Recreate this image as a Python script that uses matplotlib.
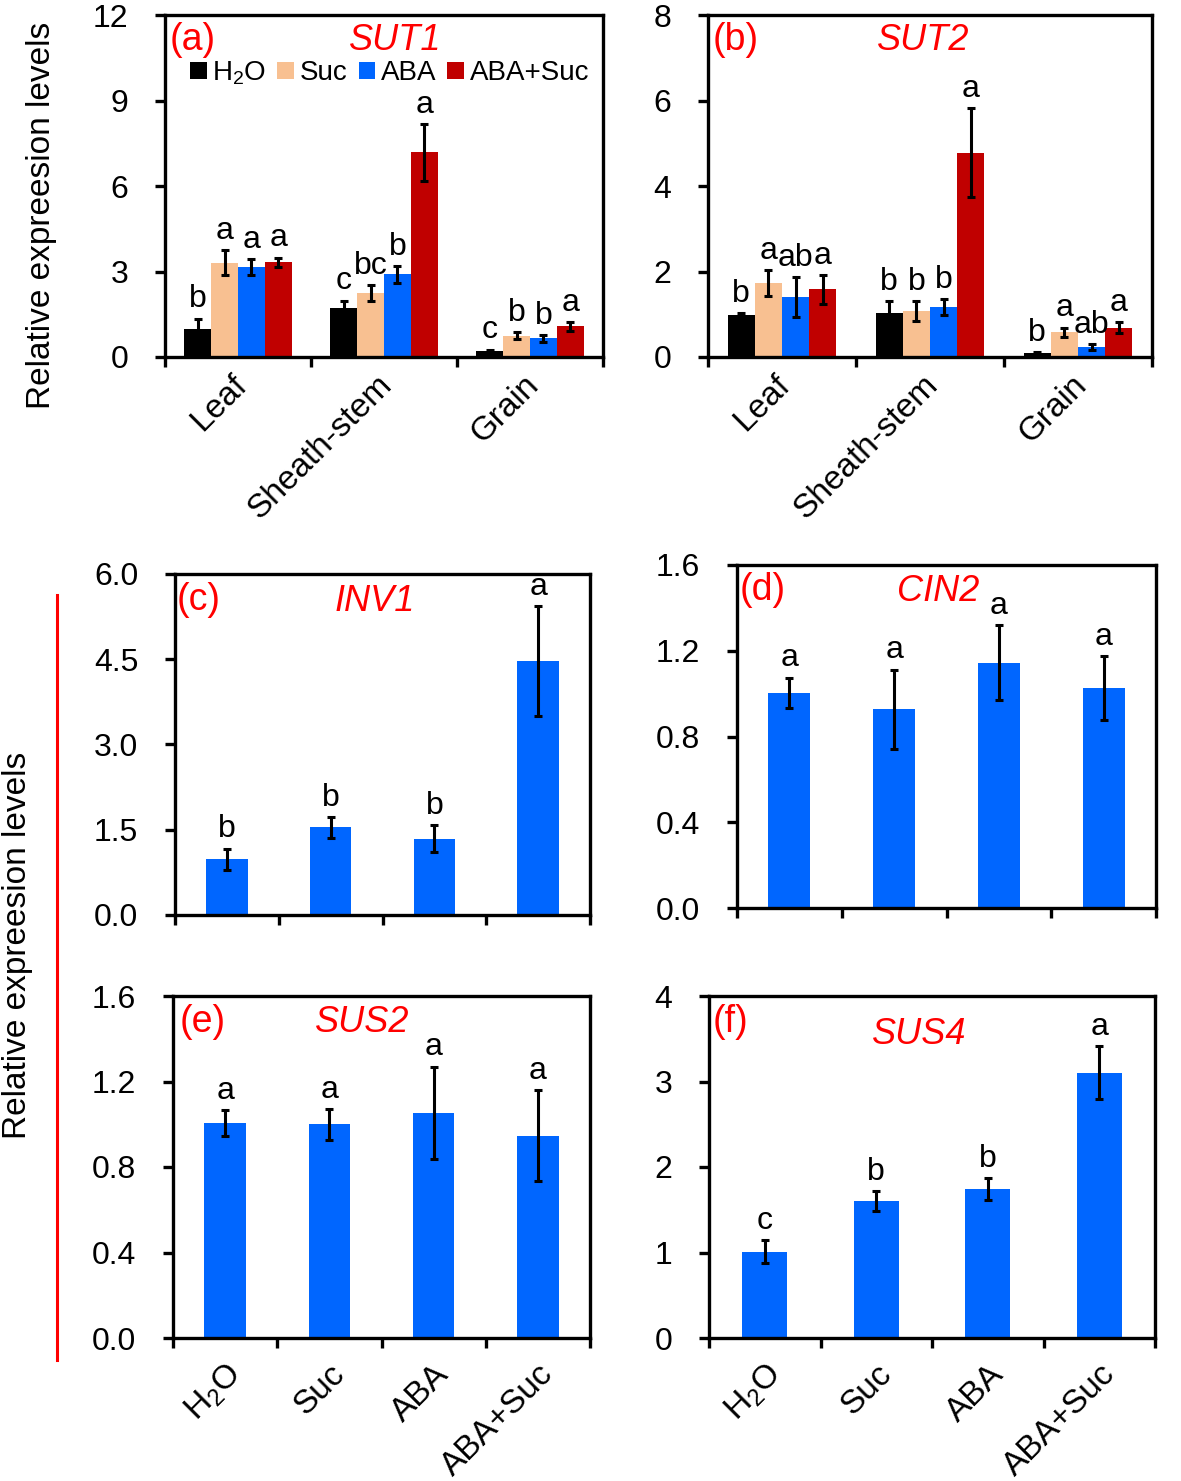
import matplotlib
matplotlib.use("Agg")
import matplotlib.pyplot as plt
from matplotlib.patches import Patch
import numpy as np

plt.rcParams['font.family'] = ['Liberation Sans', 'DejaVu Sans']
plt.rcParams['mathtext.fontset'] = 'custom'
plt.rcParams['mathtext.rm'] = 'Liberation Sans'
plt.rcParams['mathtext.it'] = 'Liberation Sans:italic'

# ---------------- data ----------------
treatments = ["H$_2$O", "Suc", "ABA", "ABA+Suc"]
tissues = ["Leaf", "Sheath-stem", "Grain"]
colors = ["#000000", "#F8C091", "#0066FF", "#C00000"]

# Panel (a) SUT1: rows = tissues, cols = treatments
sut1_mean = [[0.98, 3.31, 3.16, 3.33],
             [1.73, 2.24, 2.90, 7.18],
             [0.21, 0.75, 0.65, 1.08]]
sut1_err = [[0.37, 0.44, 0.27, 0.16],
            [0.25, 0.27, 0.30, 1.00],
            [0.05, 0.13, 0.13, 0.16]]
sut1_let = [["b", "a", "a", "a"],
            ["c", "bc", "b", "a"],
            ["c", "b", "b", "a"]]

# Panel (b) SUT2
sut2_mean = [[0.99, 1.73, 1.40, 1.58],
             [1.04, 1.07, 1.17, 4.78],
             [0.09, 0.58, 0.24, 0.68]]
sut2_err = [[0.03, 0.31, 0.47, 0.33],
            [0.26, 0.23, 0.19, 1.04],
            [0.03, 0.11, 0.07, 0.13]]
sut2_let = [["b", "a", "ab", "a"],
            ["b", "b", "b", "a"],
            ["b", "a", "ab", "a"]]

# Panels (c)-(f): single series over treatments
inv1_mean = [0.98, 1.54, 1.34, 4.47]
inv1_err = [0.19, 0.18, 0.24, 0.96]
inv1_let = ["b", "b", "b", "a"]

cin2_mean = [1.003, 0.927, 1.145, 1.027]
cin2_err = [0.072, 0.185, 0.175, 0.150]
cin2_let = ["a", "a", "a", "a"]

sus2_mean = [1.004, 1.000, 1.053, 0.947]
sus2_err = [0.061, 0.073, 0.217, 0.211]
sus2_let = ["a", "a", "a", "a"]

sus4_mean = [1.01, 1.60, 1.745, 3.10]
sus4_err = [0.135, 0.12, 0.13, 0.31]
sus4_let = ["c", "b", "b", "a"]

W, H = 1181, 1481
fig = plt.figure(figsize=(W / 100, H / 100), dpi=100)

def add_ax(l, r, t, b):
    return fig.add_axes([l / W, 1 - b / H, (r - l) / W, (b - t) / H])

FS = 23
LW = 2.4
RED = "#FF0000"

def style(ax, ymax, yticks, yfmt, nx):
    ax.set_xlim(0, nx)
    ax.set_ylim(0, ymax)
    ax.set_yticks(yticks)
    ax.set_yticklabels([yfmt.format(v) for v in yticks], fontsize=FS)
    ax.set_xticks(np.arange(nx + 1))
    ax.set_xticklabels([])
    for s in ax.spines.values():
        s.set_linewidth(LW)
    ax.tick_params(axis='both', direction='out', length=7.5, width=LW)
    ax.tick_params(axis='y', pad=19)

def grouped(ax, means, errs, lets, ymax):
    n = len(treatments)
    bw = 0.184
    for g in range(len(tissues)):
        for k in range(n):
            x = g + 0.5 + (k - (n - 1) / 2) * bw
            m = means[g][k]; e = errs[g][k]
            ax.bar(x, m, width=bw, color=colors[k], edgecolor='none', zorder=2)
            ax.errorbar(x, m, yerr=e, fmt='none', ecolor='black', elinewidth=2.2,
                        capsize=3.2, capthick=2.2, zorder=3)
            ax.text(x, m + e + ymax * 0.012, lets[g][k], ha='center', va='bottom',
                    fontsize=FS)

def single(ax, means, errs, lets, ymax):
    for k in range(len(means)):
        x = k + 0.5
        ax.bar(x, means[k], width=0.40, color="#0066FF", edgecolor='none', zorder=2)
        ax.errorbar(x, means[k], yerr=errs[k], fmt='none', ecolor='black',
                    elinewidth=2.2, capsize=3.2, capthick=2.2, zorder=3)
        ax.text(x, means[k] + errs[k] + ymax * 0.012, lets[k], ha='center',
                va='bottom', fontsize=FS)

def xlabels(ax, labels, dx, dy):
    for i, lab in enumerate(labels):
        ax.text(i + 0.5 + dx, dy, lab, transform=ax.get_xaxis_transform(),
                rotation=45, ha='right', va='top', rotation_mode='anchor',
                fontsize=FS + 1)

def fig_text(x, y, s, **kw):
    fig.text(x / W, 1 - y / H, s, **kw)

# (a)
axa = add_ax(165, 603, 15, 357)
style(axa, 12, [0, 3, 6, 9, 12], "{:g}", 3)
grouped(axa, sut1_mean, sut1_err, sut1_let, 12)
xlabels(axa, tissues, -0.05, -0.035)
handles = [Patch(facecolor=c, edgecolor='none') for c in colors]
axa.legend(handles, treatments, ncol=4, frameon=False, fontsize=20,
           loc='center left', bbox_to_anchor=((190 - 165) / 438, (357 - 73) / 342),
           handlelength=0.6, handleheight=0.6, handletextpad=0.2,
           columnspacing=0.4, borderpad=0, borderaxespad=0)

# (b)
axb = add_ax(708, 1152, 15, 357)
style(axb, 8, [0, 2, 4, 6, 8], "{:g}", 3)
grouped(axb, sut2_mean, sut2_err, sut2_let, 8)
xlabels(axb, tissues, -0.05, -0.035)

# (c)
axc = add_ax(175, 590, 574, 915)
style(axc, 6.0, [0, 1.5, 3.0, 4.5, 6.0], "{:.1f}", 4)
single(axc, inv1_mean, inv1_err, inv1_let, 6.0)

# (d)
axd = add_ax(737, 1156, 565, 908)
style(axd, 1.6, [0, 0.4, 0.8, 1.2, 1.6], "{:.1f}", 4)
single(axd, cin2_mean, cin2_err, cin2_let, 1.6)

# (e)
axe = add_ax(173, 590, 996, 1338)
style(axe, 1.6, [0, 0.4, 0.8, 1.2, 1.6], "{:.1f}", 4)
single(axe, sus2_mean, sus2_err, sus2_let, 1.6)
xlabels(axe, treatments, 0.0, -0.06)

# (f)
axf = add_ax(709, 1155, 996, 1338)
style(axf, 4, [0, 1, 2, 3, 4], "{:g}", 4)
single(axf, sus4_mean, sus4_err, sus4_let, 4)
xlabels(axf, treatments, 0.0, -0.06)

# panel letters and gene names
panel_info = [
    (170, 40, "(a)", 395, 40, "SUT1"),
    (713, 40, "(b)", 923, 40, "SUT2"),
    (177, 600, "(c)", 375, 602, "INV1"),
    (740, 590, "(d)", 938, 592, "CIN2"),
    (180, 1022, "(e)", 362, 1022, "SUS2"),
    (713, 1022, "(f)", 919, 1035, "SUS4"),
]
for lx, ly, lt, gx, gy, gt in panel_info:
    fig_text(lx, ly, lt, color=RED, fontsize=27, ha='left', va='center')
    fig_text(gx, gy, gt, color=RED, fontsize=26, ha='center', va='center',
             style='italic')

# y labels
fig_text(42, 215, "Relative expreesion levels", rotation=90, fontsize=24,
         ha='center', va='center')
fig_text(18, 945, "Relative expreesion levels", rotation=90, fontsize=24,
         ha='center', va='center')
fig.add_artist(plt.Line2D([57 / W, 57 / W], [1 - 595 / H, 1 - 1360 / H],
                          color=RED, linewidth=2.2))

fig.savefig("out.png", dpi=100)
